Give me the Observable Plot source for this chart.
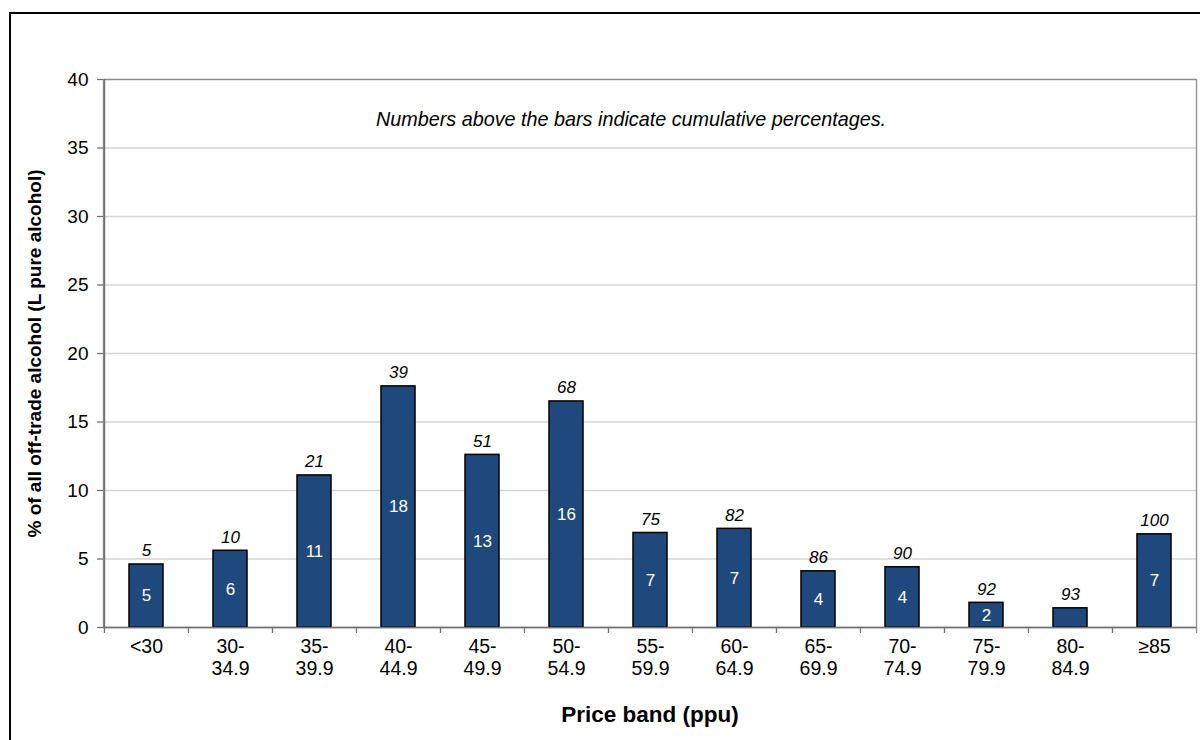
<!DOCTYPE html>
<html><head><meta charset="utf-8">
<script src="https://cdn.jsdelivr.net/npm/d3@7"></script>
<script src="https://cdn.jsdelivr.net/npm/@observablehq/plot@0.6"></script>
<style>
html,body{margin:0;padding:0;background:#fff;overflow:hidden;}
#wrap{position:relative;width:1200px;height:740px;overflow:hidden;background:#fff;}
#border{position:absolute;left:9px;top:12px;width:1300px;height:900px;border:2px solid #000;}
#chart{position:absolute;left:0;top:0;}
</style></head><body>
<div id="wrap"><div id="border"></div><div id="chart"></div></div>
<script>
const bands = ["<30","30-34.9","35-39.9","40-44.9","45-49.9","50-54.9","55-59.9","60-64.9","65-69.9","70-74.9","75-79.9","80-84.9","≥85"];
const tickLabels = ["<30","30-\n34.9","35-\n39.9","40-\n44.9","45-\n49.9","50-\n54.9","55-\n59.9","60-\n64.9","65-\n69.9","70-\n74.9","75-\n79.9","80-\n84.9","≥85"];
const shares = [4.6, 5.6, 11.1, 17.6, 12.6, 16.5, 6.9, 7.2, 4.1, 4.4, 1.8, 1.4, 6.8];
const shareLabels = ["5","6","11","18","13","16","7","7","4","4","2","","7"];
const cumulative = [5, 10, 21, 39, 51, 68, 75, 82, 86, 90, 92, 93, 100];
const yTicks = [0, 5, 10, 15, 20, 25, 30, 35, 40];
const note = "Numbers above the bars indicate cumulative percentages.";
const yTitle = "% of all off-trade alcohol (L pure alcohol)";
const xTitle = "Price band (ppu)";

const data = bands.map((b, i) => ({band: b, share: shares[i], label: shareLabels[i], cum: cumulative[i]}));
const W = 1200, H = 740, ML = 103, MR = 4, MT = 79, MB = 113;
const step = (W - ML - MR) / bands.length;
const font = "'Liberation Sans', Arial, Helvetica, sans-serif";

const chart = Plot.plot({
  width: W, height: H,
  marginLeft: ML, marginRight: MR, marginTop: MT, marginBottom: MB,
  style: {fontFamily: font, background: "transparent", color: "#000", overflow: "visible"},
  x: {domain: bands, paddingInner: 0.6, paddingOuter: 0.3, axis: null},
  y: {domain: [0, 40], axis: null},
  marks: [
    Plot.gridY(yTicks, {stroke: "#d4d4d4", strokeOpacity: 1, strokeWidth: 1.3}),
    Plot.frame({stroke: "#8c8c8c", strokeWidth: 1.3}),
    Plot.barY(data, {x: "band", y: "share", fill: "#1F487C", stroke: "#000", strokeWidth: 1.5}),
    Plot.ruleY([0], {stroke: "#707070", strokeWidth: 1.5}),
    Plot.ruleX([bands[0]], {y1: 0, y2: 40, dx: -step / 2, stroke: "#707070", strokeWidth: 1.5}),
    Plot.ruleX(bands, {y1: 0, y2: 0, insetBottom: -6, dx: -step / 2, stroke: "#707070", strokeWidth: 1.3}),
    Plot.ruleX([bands[bands.length - 1]], {y1: 0, y2: 0, insetBottom: -6, dx: step / 2, stroke: "#8c8c8c", strokeWidth: 1.3}),
    Plot.axisY(yTicks, {tickSize: 6, tickPadding: 9, fontSize: 19, stroke: "#707070", fill: "#000", strokeWidth: 1.3, label: null}),
    Plot.axisX(bands, {tickSize: 0, tickPadding: 11, fontSize: 19.5, lineHeight: 1.08, fill: "#000", label: null,
      tickFormat: (d) => tickLabels[bands.indexOf(d)]}),
    Plot.text(data, {x: "band", y: (d) => d.share / 2, text: "label", fill: "#fff", fontSize: 17}),
    Plot.text(data, {x: "band", y: "share", text: "cum", lineAnchor: "bottom", dy: -8, fontStyle: "italic", fontSize: 17, fill: "#000"}),
    Plot.text([note], {frameAnchor: "top", dy: 32, dx: -19, fontStyle: "italic", fontSize: 19.8, fill: "#000"}),
    Plot.text([yTitle], {frameAnchor: "left", textAnchor: "middle", dx: -69, rotate: -90, fontWeight: "bold", fontSize: 19, fill: "#000"}),
    Plot.text([xTitle], {frameAnchor: "bottom", dy: 94, fontWeight: "bold", fontSize: 22.5, fill: "#000"})
  ]
});
document.getElementById("chart").appendChild(chart);
</script>
</body></html>
